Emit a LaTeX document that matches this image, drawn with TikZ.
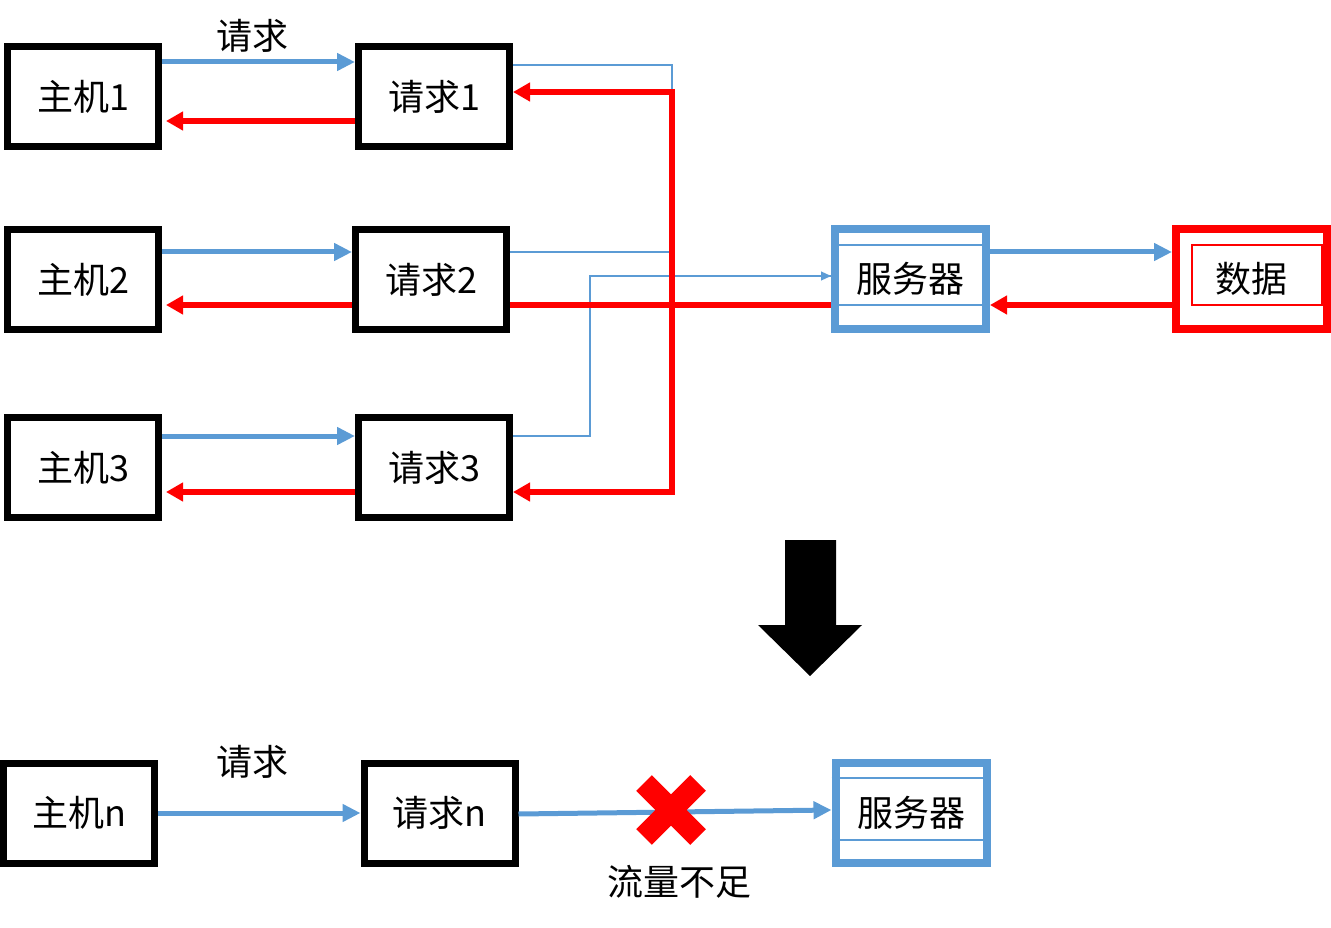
\documentclass[tikz,border=0pt]{standalone}
\usepackage{fontspec}
\newfontfamily\cjk{Noto Sans CJK SC}
\usetikzlibrary{arrows.meta}
\definecolor{reqblue}{HTML}{5B9BD5}
\definecolor{backred}{HTML}{FF0000}
\begin{document}
\begin{tikzpicture}[x=1pt,y=-1pt,line join=miter,font=\cjk\fontsize{36}{40}\selectfont]
\tikzset{box/.style={draw,line width=7pt,minimum width=151pt,minimum height=100pt,inner sep=0pt},
  srvbox/.style={box,draw=reqblue,line width=8pt},
  datbox/.style={box,draw=backred,line width=8pt},
  goarr/.style={reqblue,line width=5pt,-{Triangle[length=18pt,width=17pt]}},
  backarr/.style={backred,line width=5.5pt,-{Triangle[length=17pt,width=18pt]}},
  backline/.style={backred,line width=5.5pt},
  thinreq/.style={reqblue,line width=1.2pt}}
\useasboundingbox (0,0) rectangle (1331,928);
% hosts and requests
\node[box] (h1) at (83,96.5) {主机1};
\node[box] (q1) at (434,96.5) {请求1};
\node[box] (h2) at (83,279.5) {主机2};
\node[box] (q2) at (431,279.5) {请求2};
\node[box] (h3) at (83,467.5) {主机3};
\node[box] (q3) at (434,467.5) {请求3};
\node[srvbox] (srv) at (910.5,279) {服务器};
\node[datbox] (dat) at (1251.5,279) {数据};
\node (lbl1) at (252,36) {请求};
\foreach \i/\b/\r in {1/34.5/-24.5,2/27.5/-25.5,3/31.5/-24.5}{
  \draw[goarr] ([yshift=\b pt]h\i.east) -- ([yshift=\b pt]q\i.west);
  \draw[backarr,shorten >=4pt] ([yshift=\r pt]q\i.west) -- ([yshift=\r pt]h\i.east);
}
% thin request lines to the server
\coordinate (mrg) at (672,276);
\draw[thinreq] ([yshift=31.5pt]q1.east) -| (mrg);
\draw[thinreq] ([yshift=27.5pt]q2.east) -| (mrg);
\draw[thinreq] (mrg) -- ([yshift=3pt]srv.west);
\draw[thinreq,-{Triangle[length=10pt,width=9pt]}] ([yshift=31.5pt]q3.east) -| (590,276) -- ([yshift=3pt]srv.west);
% answers
\coordinate (rj) at (672,305);
\draw[backline] ([yshift=-26pt]srv.west) -- ([yshift=-25.5pt]q2.east);
\draw[backarr] (rj) |- ([yshift=4.5pt]q1.east);
\draw[backarr] (rj) |- ([yshift=-24.5pt]q3.east);
\draw[goarr] ([yshift=27pt]srv.east) -- ([yshift=27pt]dat.west);
\draw[backarr] ([yshift=-26pt]dat.west) -- ([yshift=-26pt]srv.east);
\foreach \s in {34,-26}
\draw[reqblue,line width=1.5pt] ([yshift=\s pt]srv.west) -- ([yshift=\s pt]srv.east);
\draw[backred,line width=1.5pt] ([shift={(-59.5,-34)}]dat.center) rectangle ([shift={(70.5,26)}]dat.center);
% big arrow
\fill (785,540) -- (836,540) -- (836,625) -- (862,625) -- (810,676) -- (758,625) -- (785,625) -- cycle;
% single host
\node[box] (hn) at (79,813) {主机n};
\node[box] (qn) at (439.5,813) {请求n};
\node[srvbox] (srvn) at (911,813) {服务器};
\node (lbln) at (252,762) {请求};
\node (lack) at (679,882) {流量不足};
\foreach \s in {35,-27}
\draw[reqblue,line width=1.5pt] ([yshift=\s pt]srvn.west) -- ([yshift=\s pt]srvn.east);
\draw[goarr] (hn.east) -- (qn.west);
\draw[goarr] ([yshift=-1pt]qn.east) -- ([yshift=3pt]srvn.west);
\draw[backred,line width=22pt] (644,783) -- (698,837) (644,837) -- (698,783);
\end{tikzpicture}
\end{document}
